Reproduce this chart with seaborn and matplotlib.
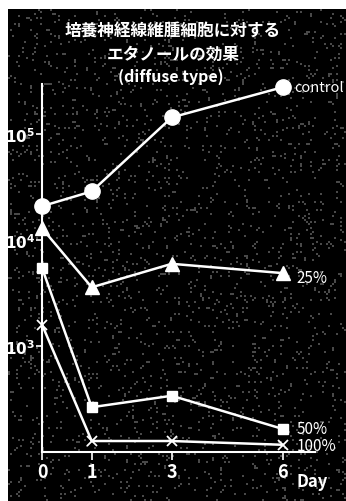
import numpy as np
import pandas as pd
import matplotlib
matplotlib.use("Agg")
import matplotlib.pyplot as plt
import seaborn as sns
from matplotlib.ticker import FixedLocator, FixedFormatter, NullLocator

# values (cell count, log scale)
days = [0, 1, 3, 6]
control = [2.1e4, 2.9e4, 1.45e5, 2.8e5]
etoh_25 = [1.3e4, 3.6e3, 6.0e3, 4.9e3]
etoh_50 = [5.5e3, 265, 340, 165]
etoh_100 = [1.6e3, 127, 127, 117]
series_names = ["control", "25%", "50%", "100%"]

y_ticks = [1e3, 1e4, 1e5]
y_tick_labels = [r"$\mathbf{10^{3}}$", r"$\mathbf{10^{4}}$", r"$\mathbf{10^{5}}$"]
x_ticks = [0, 1, 3, 6]
title_lines = ["培養神経線維腫細胞に対する", "エタノールの効果"]
subtitle = "(diffuse type)"

# the hand-drawn day axis is not evenly spaced: day -> axis position
axis_days = [0, 1, 3, 6, 8]
axis_pos = [0, 1.239, 3.233, 6, 7.845]


def fwd(d):
    return np.interp(d, axis_days, axis_pos)


def inv(p):
    return np.interp(p, axis_pos, axis_days)


# long table for seaborn
df = pd.DataFrame({
    "day": days * 4,
    "count": control + etoh_25 + etoh_50 + etoh_100,
    "group": sum([[n] * len(days) for n in series_names], []),
})

sns.set_style("dark")
plt.rcParams["font.family"] = ["Noto Sans CJK JP", "DejaVu Sans"]

W, H = 346, 502
fig = plt.figure(figsize=(W / 100, H / 100), dpi=100, facecolor="white")

# dark photographic background (speckle texture, decorative only)
bg = fig.add_axes([8 / W, 0, (W - 8) / W, (H - 10) / H])
rng = np.random.default_rng(3)
speck = (rng.random((246, 169)) > 0.94).astype(float)
bg.imshow(speck, cmap="gray", vmin=0, vmax=3.5, aspect="auto", interpolation="nearest")
bg.axis("off")

ax = fig.add_axes([42 / W, 49 / H, 273 / W, 368 / H])
ax.set_facecolor("none")
ax.set_xscale("function", functions=(fwd, inv))

markers = {"control": "o", "25%": "^", "50%": "s", "100%": "x"}
sizes = {"control": 11, "25%": 10, "50%": 7, "100%": 7}
for name in series_names:
    sub = df[df["group"] == name]
    sns.lineplot(data=sub, x="day", y="count", ax=ax, color="white", lw=1.8,
                 marker=markers[name], markersize=sizes[name],
                 markeredgecolor="white", markeredgewidth=1.0 if name != "100%" else 1.3,
                 legend=False, zorder=3, clip_on=False)

ax.set_yscale("log")
ax.set_ylim(100, 3e5)
ax.set_xlim(0, 6.87)

for s in ["top", "right"]:
    ax.spines[s].set_visible(False)
for s in ["left", "bottom"]:
    ax.spines[s].set_color("white")
    ax.spines[s].set_linewidth(1.5)

ax.yaxis.set_major_locator(FixedLocator(y_ticks))
ax.yaxis.set_major_formatter(FixedFormatter(y_tick_labels))
ax.yaxis.set_minor_locator(NullLocator())
ax.xaxis.set_minor_locator(NullLocator())
ax.set_xticks(x_ticks)
ax.set_xticklabels([str(d) for d in x_ticks], fontsize=13, fontweight="bold", color="white")
ax.tick_params(axis="y", colors="white", labelsize=11, length=4, width=1.2, pad=1, left=True)
ax.tick_params(axis="x", colors="white", length=6, width=1.2, pad=1, bottom=True)
ax.set_xlabel("")
ax.set_ylabel("")
ax.grid(False)

# series labels at the right end
offsets = {"control": (11, 0), "25%": (14, -4), "50%": (14, 0), "100%": (14, -1)}
fsizes = {"control": 10.5, "25%": 11, "50%": 11, "100%": 11}
for name in series_names:
    sub = df[df["group"] == name]
    ax.annotate(name, (sub["day"].iloc[-1], sub["count"].iloc[-1]),
                xytext=offsets[name], textcoords="offset pixels",
                color="white", fontsize=fsizes[name], va="center", ha="left",
                annotation_clip=False)

ax.text(0.99, -0.08, "Day", transform=ax.transAxes, color="white",
        fontsize=12, fontweight="bold", ha="center", va="center")

fig.text(173 / W, 1 - 32 / H, title_lines[0], color="white", fontsize=12,
         fontweight="bold", ha="center", va="center")
fig.text(173 / W, 1 - 55 / H, title_lines[1], color="white", fontsize=12,
         fontweight="bold", ha="center", va="center")
fig.text(171 / W, 1 - 77 / H, subtitle, color="white", fontsize=11.5,
         fontweight="bold", ha="center", va="center")

fig.savefig("out.png", dpi=100, facecolor="white")
